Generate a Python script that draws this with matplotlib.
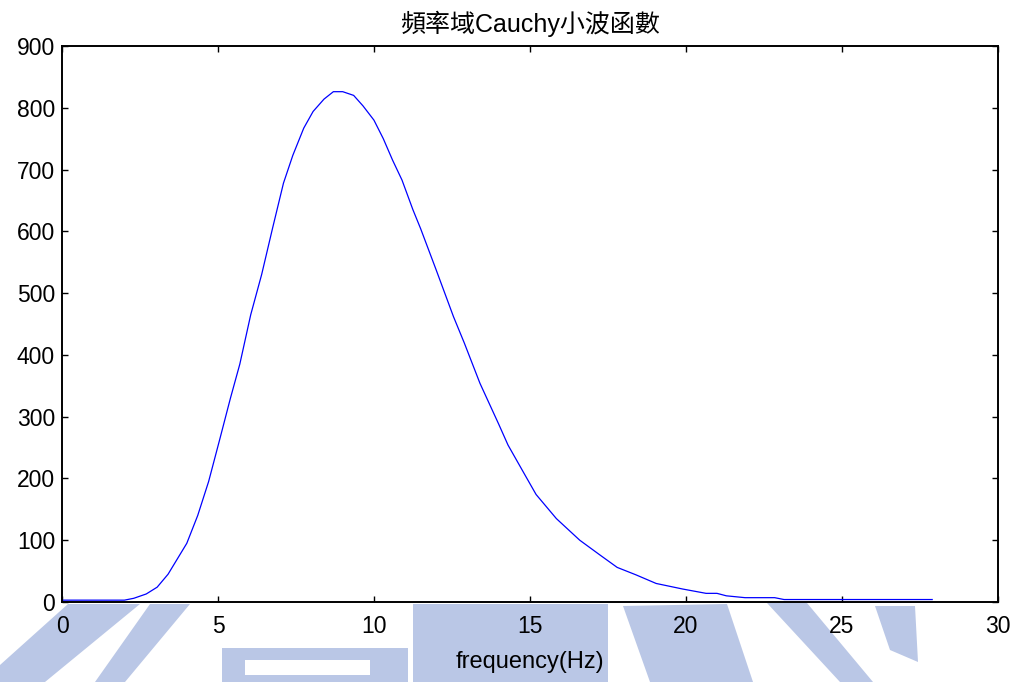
import matplotlib.pyplot as plt
from matplotlib.patches import Polygon

plt.rcParams['font.family'] = ['Liberation Sans', 'Noto Sans CJK TC']

# Cauchy wavelet spectrum
frecuencia = [0, 1.0, 2.0, 2.3, 2.7, 3.05, 3.4, 3.7, 4.0, 4.35, 4.7, 5.05, 5.4,
              5.7, 6.05, 6.4, 6.75, 7.1, 7.4, 7.75, 8.05, 8.4, 8.7, 9.0, 9.35,
              9.65, 10.0, 10.3, 10.6, 10.9, 11.25, 11.5, 12.0, 12.55, 12.9,
              13.4, 14.0, 14.3, 14.85, 15.2, 15.6, 15.85, 16.6, 17.25, 17.8,
              18.4, 19.05, 19.9, 20.65, 21.0, 21.3, 21.9, 22.85, 23.15, 25.0, 27.9]
amplitud = [3, 3, 3, 6, 13, 24, 45, 70, 95, 140, 195, 262, 330,
            385, 465, 530, 605, 678, 723, 767, 794, 814, 826, 826, 820,
            803, 780, 750, 715, 683, 635, 604, 537, 462, 419,
            354, 288, 254, 205, 174, 150, 135, 100, 76, 56,
            44, 30, 21, 14, 14, 10, 7, 7, 4, 4, 4]

xticks = [0, 5, 10, 15, 20, 25, 30]
yticks = [0, 100, 200, 300, 400, 500, 600, 700, 800, 900]

titulo = "頻率域Cauchy小波函數"
etiqueta_x = "frequency(Hz)"

W, H = 1017, 682


def marca_agua(fig):
    # faded logo behind the bottom of the figure (pixel outlines, top-left origin)
    formas = [
        [(68, 604), (140, 604), (45, 682), (0, 682), (0, 665)],
        [(150, 604), (190, 604), (125, 682), (95, 682)],
        [(222, 648), (408, 648), (408, 682), (222, 682)],
        [(413, 604), (608, 604), (608, 682), (413, 682)],
        [(623, 606), (727, 604), (753, 682), (650, 682)],
        [(767, 603), (807, 603), (873, 682), (840, 682)],
        [(875, 606), (915, 606), (918, 662), (890, 650)],
    ]
    for f in formas:
        pts = [(x / W, 1 - y / H) for x, y in f]
        fig.patches.append(Polygon(pts, closed=True, transform=fig.transFigure,
                                   facecolor="#bac7e6", edgecolor="none", zorder=-1))
    hueco = [(245, 660), (370, 660), (370, 675), (245, 675)]
    fig.patches.append(Polygon([(x / W, 1 - y / H) for x, y in hueco], closed=True,
                               transform=fig.transFigure, facecolor="white",
                               edgecolor="none", zorder=-1))


def dibujar():
    fig = plt.figure(figsize=(W / 100, H / 100), dpi=100)
    marca_agua(fig)
    ax = fig.add_axes([0.061, 0.1173, 0.920, 0.8153])
    ax.plot(frecuencia, amplitud, color="#0000ff", linewidth=0.9)
    ax.set_xlim(0, 30)
    ax.set_ylim(0, 900)
    ax.set_xticks(xticks)
    ax.set_yticks(yticks)
    ax.tick_params(direction="in", length=4, width=1, labelsize=16.5,
                   top=True, right=True, pad=5)
    ax.tick_params(axis="x", pad=9)
    for s in ax.spines.values():
        s.set_linewidth(1.4)
    ax.set_title(titulo, fontsize=18, pad=10)
    ax.set_xlabel(etiqueta_x, fontsize=17, labelpad=10)
    fig.savefig("out.png", dpi=100)


dibujar()
